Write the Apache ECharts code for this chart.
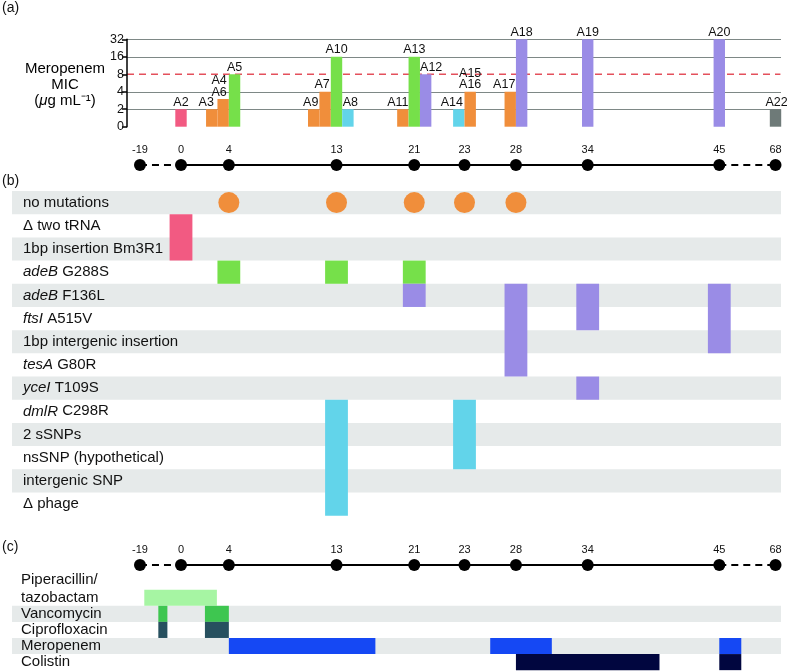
<!DOCTYPE html>
<html><head><meta charset="utf-8">
<script src="https://cdn.jsdelivr.net/npm/echarts@6/dist/echarts.min.js"></script>
<style>html,body{margin:0;padding:0;background:#fff}#c{width:787px;height:671px}</style>
</head><body><div id="c"></div>
<script>
// ================= DATA =================
// sampling days on the timeline
const timelineDays = [-19, 0, 4, 13, 21, 23, 28, 34, 45, 68];

// (a) isolates and their meropenem MIC (µg/mL)
const isolateNames   = ['A2','A3','A6','A5','A9','A7','A10','A8','A11','A13','A12','A14','A16','A17','A18','A19','A20','A22'];
const isolateLabels  = ['A2','A3','A4\nA6','A5','A9','A7','A10','A8','A11','A13','A12','A14','A15\nA16','A17','A18','A19','A20','A22'];
const isolateDay     = [0, 4, 4, 4, 13, 13, 13, 13, 21, 21, 21, 23, 23, 28, 28, 34, 45, 68];
const isolateSlot    = [0, -1.5, -0.5, 0.5, -2, -1, 0, 1, -1, 0, 1, -0.5, 0.5, -0.5, 0.5, 0, 0, 0];
const meropenemMIC   = [2, 2, 3, 8, 2, 4, 16, 2, 2, 16, 8, 2, 4, 4, 32, 32, 32, 2];
const isolateLineage = ['pink','orange','orange','green','orange','orange','green','cyan','orange','green','purple','cyan','orange','orange','purple','purple','purple','gray'];
const micTickLabels  = ['0','2','4','8','16','32'];
const micBreakpoint  = 8;

// (b) mutations
const mutationRows = ['no mutations','Δ two tRNA','1bp insertion Bm3R1','adeB G288S','adeB F136L','ftsI A515V',
  '1bp intergenic insertion','tesA G80R','yceI T109S','dmlR C298R','2 sSNPs','nsSNP (hypothetical)','intergenic SNP','Δ phage'];
const italicGenes = ['adeB','ftsI','tesA','yceI','dmlR'];
const noMutationDays = [4, 13, 21, 23, 28];
// [day, first row, last row, lineage]
const mutationBlocks = [
  [0, 1, 2, 'pink'],
  [4, 3, 3, 'green'], [13, 3, 3, 'green'], [21, 3, 3, 'green'],
  [21, 4, 4, 'purple'], [28, 4, 7, 'purple'], [34, 4, 5, 'purple'], [34, 8, 8, 'purple'], [45, 4, 6, 'purple'],
  [13, 9, 13, 'cyan'], [23, 9, 11, 'cyan']
];

// (c) antibiotic courses: [drug index, start day, end day]
const drugs = ['Piperacillin/\ntazobactam','Vancomycin','Ciprofloxacin','Meropenem','Colistin'];
const drugCourses = [
  [0, -17, 3],
  [1, -10.5, -6.3], [1, 2, 4],
  [2, -10.5, -6.3], [2, 2, 4],
  [3, 4, 17], [3, 25.5, 31], [3, 45, 54],
  [4, 28, 40], [4, 45, 54]
];

// ================= LAYOUT / STYLE =================
const FONT = '"Liberation Sans", Arial, Helvetica, sans-serif';
const ORIGIN_PX = 181, PX_PER_UNIT = 11.962, RIGHT_PX = 781;
// schematic (broken) timeline: where each sampling day sits along the drawn axis
const timelineSlots = [-3.43, 0, 4, 13, 19.5, 23.7, 28, 34, 45, 49.7];
function dayPos(d) {
  const D = timelineDays, S = timelineSlots;
  if (d <= D[0]) return S[0] + (d - D[0]) * (S[1] - S[0]) / (D[1] - D[0]);
  for (let i = 0; i < D.length - 1; i++) {
    if (d <= D[i + 1]) return S[i] + (d - D[i]) * (S[i + 1] - S[i]) / (D[i + 1] - D[i]);
  }
  const n = D.length - 1;
  return S[n] + (d - D[n]) * (S[n] - S[n - 1]) / (D[n] - D[n - 1]);
}
function xr(leftPx) { return { min: (leftPx - ORIGIN_PX) / PX_PER_UNIT, max: (RIGHT_PX - ORIGIN_PX) / PX_PER_UNIT }; }
const BAR_W = 11.4 / PX_PER_UNIT;
const lineageColors = { pink:'#F25A82', orange:'#F08E3B', green:'#76E04A', purple:'#9A8CE6', cyan:'#62D4EA', gray:'#6E7A78' };
const drugColors = ['#A6F5A3', '#3EC650', '#27505F', '#1548F4', '#01063F'];
const BAND = '#E6EAEA';
const GRIDLINE = '#7E8886';
const labelNudge = { A3:-5.5, A6:-4, A9:-3, A7:-3, A8:2.5, A11:-5, A12:5.5, A14:-7, A17:-6, A22:1 };

const chart = echarts.init(document.getElementById('c'), null, { renderer: 'canvas' });

const xA = xr(127), xF = xr(12);
function hiddenX(idx, r) { return { type:'value', gridIndex: idx, min: r.min, max: r.max, show: false }; }

const barData = isolateNames.map((n, i) => [dayPos(isolateDay[i]) + isolateSlot[i] * BAR_W, Math.log2(meropenemMIC[i]), i]);
// horizontal reference lines at every MIC tick except 0 and the breakpoint (drawn dashed instead)
const gridTicks = micTickLabels.map((t, i) => i).filter(i => i > 0 && Number(micTickLabels[i]) !== micBreakpoint);

function timelineSeries(xi, yi) {
  const pts = timelineDays.map(d => [dayPos(d), 0.5, d]);
  const base = { type:'line', xAxisIndex: xi, yAxisIndex: yi, symbol:'none', silent:true, animation:false };
  return [
    Object.assign({}, base, { data: [[dayPos(0), 0.5], [dayPos(45), 0.5]], lineStyle: { color:'#000', width:2 } }),
    Object.assign({}, base, { data: [[dayPos(-19), 0.5], [dayPos(0), 0.5]], lineStyle: { color:'#000', width:2, type:[7,5] } }),
    Object.assign({}, base, { data: [[dayPos(45), 0.5], [dayPos(68), 0.5]], lineStyle: { color:'#000', width:2, type:[7,5] } }),
    { type:'scatter', xAxisIndex: xi, yAxisIndex: yi, data: pts, symbolSize: 12, itemStyle: { color:'#000', opacity:1 }, silent:true, z:5,
      label: { show:true, position:'top', distance:4, formatter: p => String(p.data[2]), fontSize:11, fontFamily:FONT, color:'#111' } }
  ];
}

function bandSeries(xi, yi, rows) {
  return { type:'custom', xAxisIndex: xi, yAxisIndex: yi, silent:true, z:1,
    data: rows.map(r => [0, r]),
    renderItem: (params, api) => {
      const c = api.coord([0, api.value(1)]);
      const h = api.size([0, 1])[1];
      const cs = params.coordSys;
      return { type:'rect', shape:{ x: cs.x, y: c[1] - h / 2, width: cs.width, height: h }, style:{ fill: BAND } };
    } };
}

const option = {
  animation: false,
  backgroundColor: '#fff',
  grid: [
    { left:127, top:39.3, width:654, height:87.4 },
    { left:12, top:160, width:769, height:10 },
    { left:12, top:191, width:769, height:324.7 },
    { left:12, top:560, width:769, height:10 },
    { left:12, top:589.7, width:769, height:81.5 }
  ],
  xAxis: [hiddenX(0, xA), hiddenX(1, xF), hiddenX(2, xF), hiddenX(3, xF), hiddenX(4, xF)],
  yAxis: [
    { type:'value', gridIndex:0, min:0, max:5, interval:1, z:6,
      axisLine:{ show:true, onZero:false, lineStyle:{ color:'#000', width:1.5 } },
      axisTick:{ show:true, length:5, lineStyle:{ color:'#000', width:1.5 } },
      axisLabel:{ formatter: v => micTickLabels[v], fontSize:12.5, fontFamily:FONT, color:'#111', margin:3 },
      splitLine:{ show:false } },
    { type:'value', gridIndex:1, min:0, max:1, show:false },
    { type:'category', gridIndex:2, data: mutationRows, inverse:true, z:10,
      axisLine:{ show:false, onZero:false }, axisTick:{ show:false }, splitLine:{ show:false },
      axisLabel:{ inside:true, interval:0, margin:11, fontSize:15, fontFamily:FONT, color:'#111',
        formatter: v => { const sp = v.indexOf(' '); const w = v.slice(0, sp); return italicGenes.includes(w) ? '{i|' + w + '}' + v.slice(sp) : v; },
        rich:{ i:{ fontStyle:'italic', fontSize:15, fontFamily:FONT, color:'#111' } } } },
    { type:'value', gridIndex:3, min:0, max:1, show:false },
    { type:'category', gridIndex:4, data: drugs, inverse:true, z:10,
      axisLine:{ show:false, onZero:false }, axisTick:{ show:false }, splitLine:{ show:false },
      axisLabel:{ inside:true, interval:0, margin:9, fontSize:15, fontFamily:FONT, color:'#111', lineHeight:18,
        formatter: v => v.indexOf('\n') >= 0 ? v + '\n\u00a0' : v } }
  ],
  series: [
    // (a) gridlines
    { type:'custom', xAxisIndex:0, yAxisIndex:0, silent:true, z:1, data: gridTicks.map(t => [0, t]),
      renderItem: (params, api) => {
        const cs = params.coordSys;
        const y = Math.round(api.coord([0, api.value(1)])[1]) + 0.5;
        return { type:'line', shape:{ x1: cs.x, y1: y, x2: cs.x + cs.width, y2: y }, style:{ stroke: GRIDLINE, lineWidth: 1 } };
      } },
    // (a) breakpoint line
    { type:'line', xAxisIndex:0, yAxisIndex:0, symbol:'none', silent:true, z:3,
      data: [[xA.min, Math.log2(micBreakpoint)], [xA.max - 0.05, Math.log2(micBreakpoint)]],
      lineStyle:{ color:'#E4505C', width:1.5, type:[7,5] } },
    // (a) MIC bars
    { type:'custom', xAxisIndex:0, yAxisIndex:0, data: barData, encode:{ x:0, y:1 }, z:4,
      renderItem: (params, api) => {
        const i = api.value(2), xc = api.value(0), yv = api.value(1);
        const a = api.coord([xc - BAR_W / 2, 0]), b = api.coord([xc + BAR_W / 2, yv]);
        return { type:'group', children:[
          { type:'rect', shape:{ x:a[0], y:b[1], width:b[0]-a[0], height:a[1]-b[1] }, style:{ fill: lineageColors[isolateLineage[i]] } },
          { type:'text', style:{ text: isolateLabels[i], x:(a[0]+b[0])/2 + (labelNudge[isolateNames[i]] || 0), y:b[1]-1,
              align:'center', verticalAlign:'bottom', textAlign:'center', textVerticalAlign:'bottom',
              font:'12.5px ' + FONT, fill:'#111', lineHeight:11.5 } }
        ] };
      } },
    ...timelineSeries(1, 1),
    // (b)
    bandSeries(2, 2, mutationRows.map((r, i) => i).filter(i => i % 2 === 0)),
    { type:'custom', xAxisIndex:2, yAxisIndex:2, z:3, silent:true,
      data: mutationBlocks.map((b, i) => [dayPos(b[0]), b[1], b[2], i]),
      renderItem: (params, api) => {
        const x = api.value(0), r0 = api.value(1), r1 = api.value(2), k = api.value(3);
        const h = api.size([0, 1])[1];
        const p0 = api.coord([x - BAR_W, r0]), p1 = api.coord([x + BAR_W, r1]);
        return { type:'rect', shape:{ x:p0[0], y:p0[1] - h/2, width:p1[0]-p0[0], height:(p1[1]-p0[1]) + h },
          style:{ fill: lineageColors[mutationBlocks[k][3]] } };
      } },
    { type:'scatter', xAxisIndex:2, yAxisIndex:2, z:3, silent:true, symbolSize:21,
      data: noMutationDays.map(d => [dayPos(d), 0]), itemStyle:{ color: lineageColors.orange, opacity:1 } },
    // (c)
    ...timelineSeries(3, 3),
    bandSeries(4, 4, [1, 3]),
    { type:'custom', xAxisIndex:4, yAxisIndex:4, z:3, silent:true,
      data: drugCourses.map(c => [dayPos(c[1]), c[0], dayPos(c[2])]),
      renderItem: (params, api) => {
        const h = api.size([0, 1])[1];
        const a = api.coord([api.value(0), api.value(1)]), b = api.coord([api.value(2), api.value(1)]);
        return { type:'rect', shape:{ x:a[0], y:a[1] - h/2, width:b[0]-a[0], height:h }, style:{ fill: drugColors[api.value(1)] } };
      } }
  ],
  graphic: [
    { type:'text', left:2, top:1, style:{ text:'(a)', font:'14px ' + FONT, fill:'#111' } },
    { type:'text', left:2, top:174, style:{ text:'(b)', font:'14px ' + FONT, fill:'#111' } },
    { type:'text', left:2, top:540, style:{ text:'(c)', font:'14px ' + FONT, fill:'#111' } },
    { type:'text', x:65, y:85, style:{ text:'{n|Meropenem}\n{n|MIC}\n{n|(}{i|μ}{n|g mL⁻¹)}', align:'center', verticalAlign:'middle',
        textAlign:'center', textVerticalAlign:'middle', lineHeight:16,
        rich:{ n:{ fontSize:15, fontFamily:FONT, color:'#111', lineHeight:16 }, i:{ fontSize:15, fontFamily:FONT, fontStyle:'italic', color:'#111', lineHeight:16 } } } }
  ]
};
chart.setOption(option);
</script>
</body></html>
